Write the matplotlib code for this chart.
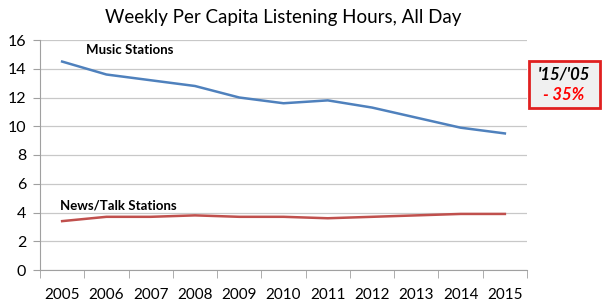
import matplotlib
matplotlib.use("Agg")
import matplotlib.pyplot as plt
from matplotlib.patches import Rectangle
import numpy as np

years = ["2005", "2006", "2007", "2008", "2009", "2010",
         "2011", "2012", "2013", "2014", "2015"]
music = [14.5, 13.6, 13.2, 12.8, 12.0, 11.6, 11.8, 11.3, 10.6, 9.9, 9.5]
news_talk = [3.4, 3.7, 3.7, 3.8, 3.7, 3.7, 3.6, 3.7, 3.8, 3.9, 3.9]

plt.rcParams["font.family"] = ["Lato", "DejaVu Sans"]

fig = plt.figure(figsize=(6.03, 3.07), dpi=100)
ax = fig.add_axes([40 / 603, 1 - 270 / 307, 487 / 603, 230 / 307])

x = np.arange(len(years))
ax.plot(x, music, color="#4f81bd", lw=1.8)
ax.plot(x, news_talk, color="#c0504d", lw=1.8)

ax.set_xlim(-0.5, len(years) - 0.5)
ax.set_ylim(0, 16)
ax.set_yticks(range(0, 17, 2))
ax.set_xticks(x)
ax.set_xticklabels(years)
ax.set_xticks(np.arange(-0.5, len(years), 1), minor=True)
ax.tick_params(axis="x", which="major", length=0, pad=13, labelsize=11)
ax.tick_params(axis="x", which="minor", length=6, color="#a0a0a0", direction="out")
ax.tick_params(axis="y", length=5, color="#a0a0a0", labelsize=11.5, pad=5)
ax.grid(axis="y", color="#c8c8c8", lw=0.9)
ax.set_axisbelow(True)
for side in ["top", "right"]:
    ax.spines[side].set_visible(False)
ax.spines["left"].set_color("#a0a0a0")
ax.spines["bottom"].set_color("#a0a0a0")

ax.text(0.55, 15.3, "Music Stations", fontsize=9.5, fontweight="bold", va="center")
ax.text(-0.05, 4.5, "News/Talk Stations", fontsize=9.5, fontweight="bold", va="center")

fig.text(283 / 603, 1 - 17 / 307, "Weekly Per Capita Listening Hours, All Day",
         fontsize=13.5, ha="center", va="center")

# callout box
fig.patches.append(Rectangle((529 / 603, 1 - 108 / 307), 71 / 603, 47 / 307,
                             transform=fig.transFigure, fc="#f0f0f0",
                             ec="#e02020", lw=2))
fig.text(564 / 603, 1 - 74 / 307, "'15/'05", fontsize=12, fontweight="bold",
         style="italic", ha="center", va="center")
fig.text(564 / 603, 1 - 95 / 307, "- 35%", fontsize=12, fontweight="bold",
         style="italic", color="#ff0000", ha="center", va="center")

fig.savefig("out.png", dpi=100)
